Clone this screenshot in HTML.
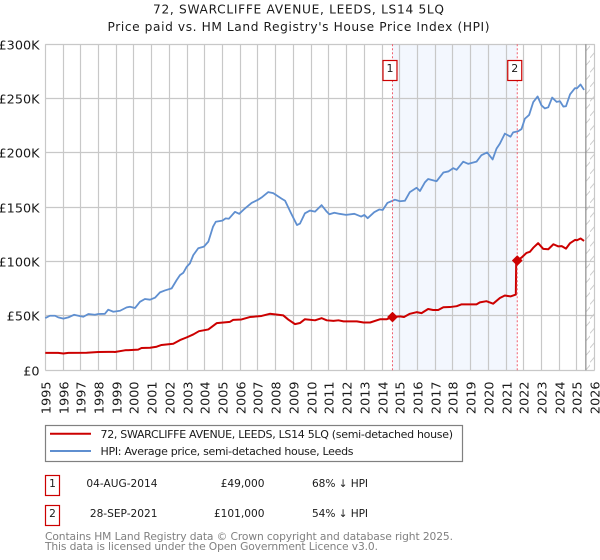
<!DOCTYPE html>
<html>
<head>
<meta charset="utf-8">
<style>
html,body{margin:0;padding:0;background:#fff;}
svg{display:block;font-family:"DejaVu Sans","Liberation Sans",sans-serif;}
</style>
</head>
<body>
<svg id="chart" xmlns="http://www.w3.org/2000/svg" width="600" height="560" viewBox="0 0 600 560">
  <defs>
    <pattern id="hatch" patternUnits="userSpaceOnUse" width="10" height="14.5">
      <line x1="-1" y1="15.5" x2="11" y2="1.5" stroke="#ccc" stroke-width="1"/>
    </pattern>
  </defs>
  <g font-size="12.2" fill="#1a1a1a" text-anchor="middle">
    <text x="298.5" y="13.5" textLength="291">72, SWARCLIFFE AVENUE, LEEDS, LS14 5LQ</text>
    <text x="298.5" y="31" textLength="382">Price paid vs. HM Land Registry's House Price Index (HPI)</text>
  </g>
  <g id="plot"></g>
  <g>
    <rect x="45.5" y="425.5" width="417" height="36" fill="#fff" stroke="#808080" stroke-width="1.2"/>
    <line x1="50" y1="433.7" x2="91" y2="433.7" stroke="#cc0000" stroke-width="2"/>
    <text x="100.5" y="438" font-size="11" fill="#1a1a1a" textLength="352.5">72, SWARCLIFFE AVENUE, LEEDS, LS14 5LQ (semi-detached house)</text>
    <line x1="50" y1="451" x2="91" y2="451" stroke="#5f8fd0" stroke-width="2"/>
    <text x="100.5" y="455" font-size="11" fill="#1a1a1a" textLength="253">HPI: Average price, semi-detached house, Leeds</text>
  </g>
  <g font-size="10.6" fill="#1a1a1a">
    <rect x="45.5" y="475.5" width="14" height="20" fill="#fff" stroke="#cc0000" stroke-width="1.2"/>
    <text x="52.5" y="487" text-anchor="middle">1</text>
    <text x="157.5" y="487" text-anchor="end">04-AUG-2014</text>
    <text x="264.5" y="487" text-anchor="end">£49,000</text>
    <text x="312" y="487" textLength="56">68% ↓ HPI</text>
    <rect x="45.5" y="505.5" width="14" height="20" fill="#fff" stroke="#cc0000" stroke-width="1.2"/>
    <text x="52.5" y="517" text-anchor="middle">2</text>
    <text x="157.5" y="517" text-anchor="end">28-SEP-2021</text>
    <text x="264.5" y="517" text-anchor="end">£101,000</text>
    <text x="312" y="517" textLength="56">54% ↓ HPI</text>
  </g>
  <g font-size="10.7" fill="#808080">
    <text x="45" y="540" textLength="408">Contains HM Land Registry data © Crown copyright and database right 2025.</text>
    <text x="45" y="550" textLength="333">This data is licensed under the Open Government Licence v3.0.</text>
  </g>
</svg>
<script>
const yTickValues = [0, 50, 100, 150, 200, 250, 300];
const yTickLabels = ['£0', '£50K', '£100K', '£150K', '£200K', '£250K', '£300K'];
const xTickYears = [1995,1996,1997,1998,1999,2000,2001,2002,2003,2004,2005,2006,2007,2008,2009,2010,2011,2012,2013,2014,2015,2016,2017,2018,2019,2020,2021,2022,2023,2024,2025,2026];
const hpiYears = [1995.0,1995.26,1995.55,1995.73,1996.02,1996.3,1996.62,1996.96,1997.15,1997.43,1997.8,1997.99,1998.36,1998.55,1998.84,1999.22,1999.59,1999.78,2000.06,2000.34,2000.62,2000.91,2001.19,2001.47,2001.75,2002.13,2002.41,2002.6,2002.79,2002.98,2003.16,2003.35,2003.63,2003.95,2004.2,2004.46,2004.62,2004.99,2005.18,2005.36,2005.7,2005.94,2006.2,2006.64,2007.01,2007.2,2007.58,2007.86,2008.33,2008.53,2008.87,2009.2,2009.37,2009.65,2009.93,2010.22,2010.59,2010.88,2011.03,2011.31,2011.6,2011.97,2012.44,2012.82,2013.0,2013.19,2013.56,2013.85,2014.04,2014.3,2014.73,2015.01,2015.29,2015.57,2015.95,2016.14,2016.42,2016.6,2017.08,2017.46,2017.74,2018.02,2018.21,2018.58,2018.86,2019.33,2019.61,2019.93,2020.24,2020.46,2020.65,2020.93,2021.25,2021.4,2021.68,2021.87,2022.06,2022.3,2022.53,2022.78,2023.0,2023.19,2023.38,2023.6,2023.85,2024.04,2024.23,2024.38,2024.61,2024.89,2025.0,2025.2,2025.4];
const hpiValues = [48.1,50.2,50.2,48.7,47.5,48.7,51.1,49.9,49.3,51.8,51.1,51.8,52,55.8,53.9,54.8,57.9,58.5,57.3,63,65.6,65,66.8,71.7,73.5,75.4,83,87.6,89.8,95.3,98.4,106,112.3,113.8,118.4,132,136.7,137.7,139.8,139.5,145.8,144,148,154,157,159,164,163,158,156,144.4,133.7,135,144.5,147,146,152,146,143.6,145,144,143,144,141.5,143,140,145.5,148,147.5,154,157,155.6,156,164,168,165,173,176,174,182,183,186,184.5,192,190,192,198,200.5,194,204,208.6,217.8,215,219,220,222,231.5,235,246.7,252,243.7,241,242,251,247,247.6,242.7,243,254,259.7,259.5,263,258];
const priceYears = [1995.0,1995.73,1996.02,1996.3,1997.33,1997.99,1998.55,1998.84,1998.93,1999.49,2000.24,2000.43,2000.91,2001.28,2001.56,2002.22,2002.6,2002.98,2003.35,2003.67,2004.2,2004.67,2005.42,2005.6,2006.07,2006.54,2007.2,2007.67,2008.43,2008.71,2009.09,2009.37,2009.65,2010.22,2010.59,2010.88,2011.26,2011.54,2011.83,2012.58,2012.96,2013.33,2013.9,2014.27,2014.59,2015.01,2015.24,2015.57,2015.95,2016.23,2016.6,2016.88,2017.17,2017.46,2017.83,2018.21,2018.49,2019.33,2019.52,2019.89,2020.27,2020.65,2020.93,2021.25,2021.55,2021.57,2021.63,2021.87,2022.15,2022.34,2022.53,2022.81,2023.1,2023.38,2023.67,2023.95,2024.14,2024.38,2024.61,2024.89,2025.0,2025.2,2025.4];
const priceValues = [16,16,15.5,16,16.2,16.8,17,17,16.8,18.4,19,20.5,20.8,21.7,23.3,24.4,27.8,30.3,33,36,37.6,43.4,44.6,46.4,46.8,49,50,52,50.5,46.7,42.5,43.5,47,46,48,46,45.5,46,45,45,44,44,47,47,49,49.6,49,52,53.5,52.6,56.4,55.5,55.5,58,58.2,59,60.7,60.7,62.5,63.6,61.3,66.5,68.8,68,69.7,100,101,103.7,108,109,112.7,117,111.7,111.4,116,114,114.3,112,117,120,119.7,121.3,119];
const saleYears = [2014.59, 2021.63];
const salePrices = [49, 101];
const saleLabels = ['1', '2'];
const dataEndYear = 2025.5;

const NS = 'http://www.w3.org/2000/svg';
const plot = document.getElementById('plot');
const X0 = 45.3, X1 = 594.7, Y0 = 370.3, Y1 = 44.3;
function xScale(year) { return X0 + (year - 1995) * (X1 - X0) / 31; }
function yScale(v) { return Y0 - v * (Y0 - Y1) / 300; }
function make(tag, attrs, parent) {
  const el = document.createElementNS(NS, tag);
  for (const k in attrs) el.setAttribute(k, attrs[k]);
  (parent || plot).appendChild(el);
  return el;
}
function snap(v) { return Math.round(v - 0.5) + 0.5; }

const shade = make('rect', {x: xScale(saleYears[0]), y: Y1, width: xScale(saleYears[1]) - xScale(saleYears[0]), height: Y0 - Y1, fill: '#f3f7fe'});



const hatchRect = make('rect', {x: xScale(dataEndYear), y: Y1, width: X1 - xScale(dataEndYear), height: Y0 - Y1, fill: 'url(#hatch)'});



xTickYears.forEach(function (yr) {
  const x = snap(xScale(yr));
  const g = make('line', {x1: x, y1: Y1, x2: x, y2: Y0, stroke: '#c8c8c8', 'stroke-width': 1.2});
  
  
  const t = make('text', {transform: 'translate(' + (x + 5.2) + ',381.5) rotate(-90)', 'text-anchor': 'end', 'font-size': 12.8, fill: '#1a1a1a'});
  
  
  t.textContent = String(yr);
});

yTickValues.forEach(function (v, i) {
  const y = snap(yScale(v));
  const g = make('line', {x1: X0, y1: y, x2: X1, y2: y, stroke: '#c8c8c8', 'stroke-width': 1.2});
  
  
  const t = make('text', {x: 39.5, y: y + 4.8, 'text-anchor': 'end', 'font-size': 12.8, fill: '#1a1a1a'});
  
  
  t.textContent = yTickLabels[i];
});

const endLine = make('line', {x1: xScale(dataEndYear), y1: Y1, x2: xScale(dataEndYear), y2: Y0, stroke: '#8c8c8c', 'stroke-width': 1.2});



function pathFrom(xs, ys) {
  return xs.map(function (yr, i) { return (i ? 'L' : 'M') + xScale(yr).toFixed(2) + ' ' + yScale(ys[i]).toFixed(2); }).join(' ');
}
const hpiLine = make('path', {d: pathFrom(hpiYears, hpiValues), fill: 'none', stroke: '#5f8fd0', 'stroke-width': 1.8, 'stroke-linejoin': 'round'});


const priceLine = make('path', {d: pathFrom(priceYears, priceValues), fill: 'none', stroke: '#cc0000', 'stroke-width': 2, 'stroke-linejoin': 'round'});



saleYears.forEach(function (yr, i) {
  const x = xScale(yr);
  const cy = yScale(salePrices[i]);
  const v = make('line', {x1: x, y1: Y1, x2: x, y2: Y0, stroke: '#f06070', 'stroke-width': 1, 'stroke-dasharray': '2 2'});
  
  
  const m = make('path', {d: 'M' + (x - 4.8) + ' ' + cy + ' L' + x + ' ' + (cy - 4.8) + ' L' + (x + 4.8) + ' ' + cy + ' L' + x + ' ' + (cy + 4.8) + ' Z', fill: '#cc0000', stroke: '#cc0000', 'stroke-width': 0.8, 'stroke-linejoin': 'round'});
  
  
  const b = make('rect', {x: x - 9.5, y: 60.5, width: 14, height: 20, fill: '#fff', stroke: '#cc0000', 'stroke-width': 1.2});
  
  
  const t = make('text', {x: x - 2.5, y: 72, 'text-anchor': 'middle', 'font-size': 11, fill: '#1a1a1a'});
  
  
  t.textContent = saleLabels[i];
});
</script>
</body>
</html>
